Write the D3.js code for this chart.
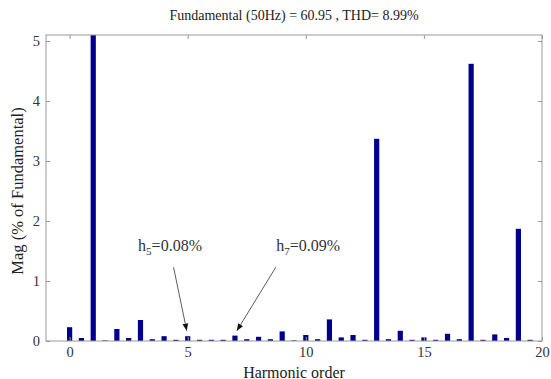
<!DOCTYPE html>
<html>
<head>
<meta charset="utf-8">
<script src="https://cdn.jsdelivr.net/npm/d3@7"></script>
<style>
  body { margin: 0; background: #fff; }
  svg { display: block; font-family: "Liberation Serif", "DejaVu Serif", serif; }
</style>
</head>
<body>
<svg id="chart" width="551" height="379"></svg>
<script>
// harmonic orders, half-step resolution
const orders = d3.range(0, 20, 0.5);
const mags = [
  0.23, 0.05, 100, 0.01, 0.20, 0.05, 0.35, 0.03, 0.08, 0.02,
  0.08, 0.02, 0.02, 0.02, 0.09, 0.03, 0.07, 0.03, 0.16, 0.01,
  0.10, 0.03, 0.36, 0.06, 0.10, 0.02, 3.37, 0.03, 0.17, 0.02,
  0.06, 0.02, 0.12, 0.03, 4.62, 0.02, 0.11, 0.05, 1.87, 0.02
];
const xTicks = [0, 5, 10, 15, 20];
const yTicks = [0, 1, 2, 3, 4, 5];
const titleText = "Fundamental (50Hz) = 60.95 , THD= 8.99%";

// labels with arrows: text at (tx,ty), arrow from (x1,y1) to (x2,y2), in data units
const notes = [
  { sub: "5", val: "=0.08%", tx: 2.9, ty: 1.5, x1: 4.4, y1: 1.23, x2: 4.96, y2: 0.17 },
  { sub: "7", val: "=0.09%", tx: 8.75, ty: 1.5, x1: 8.73, y1: 1.23, x2: 7.08, y2: 0.17 }
];

const svg = d3.select('#chart');
const m = { left: 46, right: 9, top: 35, bottom: 38 };
const W = 551, H = 379;

const x = d3.scaleLinear().domain([-1, 20]).range([m.left, W - m.right]);
const y = d3.scaleLinear().domain([0, 5.1]).range([H - m.bottom, m.top]);

svg.append('defs').append('clipPath').attr('id', 'plot')
  .append('rect').attr('x', m.left).attr('y', m.top)
  .attr('width', W - m.right - m.left).attr('height', H - m.bottom - m.top);

svg.append('defs').append('marker')
  .attr('id', 'head').attr('viewBox', '0 -5 10 10').attr('refX', 10).attr('refY', 0)
  .attr('markerWidth', 9).attr('markerHeight', 9).attr('orient', 'auto')
  .append('path').attr('d', 'M0,-4L10,0L0,4Z').attr('fill', '#111');

const bw = x(0.22) - x(0);
svg.append('g').attr('clip-path', 'url(#plot)')
  .selectAll('rect').data(orders).enter().append('rect')
  .attr('x', (d) => x(d) - bw / 2)
  .attr('width', bw)
  .attr('y', (d, i) => y(mags[i]))
  .attr('height', (d, i) => y(0) - y(mags[i]))
  .attr('fill', '#00008c');

// axes (box with inward ticks)
const axCol = '#999';
function style(g) {
  g.select('.domain').remove();
  g.selectAll('.tick line').attr('stroke', axCol);
}
svg.append('g').attr('transform', `translate(0,${y(0)})`)
  .call(d3.axisBottom(x).tickValues(xTicks).tickSize(-4).tickPadding(6).tickFormat(d3.format('d')))
  .call(style);
svg.append('g').attr('transform', `translate(0,${m.top})`)
  .call(d3.axisTop(x).tickValues(xTicks).tickSize(-4).tickFormat(''))
  .call(style);
svg.append('g').attr('transform', `translate(${m.left},0)`)
  .call(d3.axisLeft(y).tickValues(yTicks).tickSize(-4).tickPadding(6).tickFormat(d3.format('d')))
  .call(style);
svg.append('g').attr('transform', `translate(${W - m.right},0)`)
  .call(d3.axisRight(y).tickValues(yTicks).tickSize(-4).tickFormat(''))
  .call(style);
svg.selectAll('.tick text').attr('fill', '#333').style('font-family', '"Liberation Serif", serif').style('font-size', '14.5px');

svg.append('rect')
  .attr('x', m.left).attr('y', m.top)
  .attr('width', W - m.right - m.left).attr('height', H - m.bottom - m.top)
  .attr('fill', 'none').attr('stroke', axCol);

// titles
svg.append('text').attr('x', x(9.5)).attr('y', 20).attr('text-anchor', 'middle')
  .attr('font-size', 14).attr('fill', '#222').text(titleText);
svg.append('text').attr('x', x(9.5)).attr('y', 377.5).attr('text-anchor', 'middle')
  .attr('font-size', 16).attr('fill', '#222').text('Harmonic order');
svg.append('text').attr('transform', `translate(23,${y(2.5)}) rotate(-90)`)
  .attr('text-anchor', 'middle').attr('font-size', 16.5).attr('fill', '#222')
  .text('Mag (% of Fundamental)');

// annotations
const ann = svg.append('g');
notes.forEach((n) => {
  ann.append('line')
    .attr('x1', x(n.x1)).attr('y1', y(n.y1)).attr('x2', x(n.x2)).attr('y2', y(n.y2))
    .attr('stroke', '#333').attr('stroke-width', 0.8).attr('marker-end', 'url(#head)');
  const t = ann.append('text').attr('x', x(n.tx)).attr('y', y(n.ty))
    .attr('font-size', 16).attr('fill', '#333');
  t.append('tspan').text('h');
  t.append('tspan').attr('dy', 4).attr('font-size', 11).text(n.sub);
  t.append('tspan').attr('dy', -4).text(n.val);
});
</script>
</body>
</html>
